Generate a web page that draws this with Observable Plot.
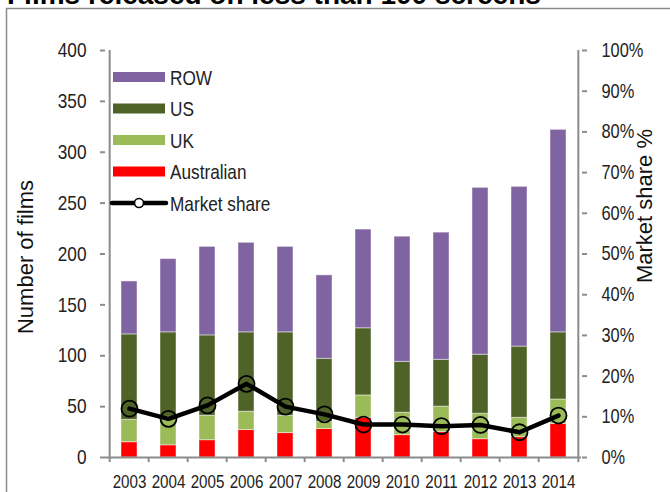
<!DOCTYPE html>
<html><head><meta charset="utf-8">
<script src="https://cdn.jsdelivr.net/npm/d3@7"></script>
<script src="https://cdn.jsdelivr.net/npm/@observablehq/plot@0.6"></script>
<style>
body{margin:0;background:#fff;}
#wrap{position:relative;width:670px;height:492px;overflow:hidden;background:#fff;}
#wrap svg.over{position:absolute;left:0;top:0;}
#chart{position:absolute;left:0;top:0;}
</style></head><body><div id="wrap"><div id="chart"></div></div>
<script>
const years = ["2003","2004","2005","2006","2007","2008","2009","2010","2011","2012","2013","2014"];
const australian = [15,12,17,27,24,28,39,22,25,18,20,33];
const uk = [22,28,24,18,17,7,22,22,25,25,19,24];
const us = [84,83,79,78,82,62,66,50,46,58,70,66];
const row = [52,72,87,88,84,82,97,123,125,164,157,199];
const marketShare = [12.0,9.5,12.8,18.1,12.5,10.6,8.1,8.1,7.7,8.0,6.2,10.3];
const seriesNames = ["Australian","UK","US","ROW"];
const seriesColors = ["#FF0000","#9BBB59","#4F6228","#8064A2"];
const leftTicks = [0,50,100,150,200,250,300,350,400];
const rightTicks = [0,10,20,30,40,50,60,70,80,90,100];
const legendOrder = ["ROW","US","UK","Australian"];
const titleText = "Films released on less than 100 screens";
const yTitle = "Number of films";
const y2Title = "Market share %";

const FONT = '"Liberation Sans",Arial,sans-serif';
const NARROW = 0.82; // emulate a condensed face
const SHARE = 4; // 100% on the right axis = 400 on the left axis
const seriesArrays = [australian, uk, us, row];
const barData = [];
years.forEach((y, i) => seriesNames.forEach((s, k) => barData.push({year: y, series: s, value: seriesArrays[k][i]})));
const shareData = years.map((y, i) => ({year: y, share: marketShare[i]}));
const half = 476 / 12 / 2;

const plot = Plot.plot({
  width: 670, height: 492,
  marginLeft: 105, marginRight: 89, marginTop: 50, marginBottom: 35,
  style: {fontFamily: FONT, fontSize: "20px", color: "#222", background: "transparent", overflow: "visible"},
  x: {type: "band", domain: years, paddingInner: 0.6, paddingOuter: 0.3, label: null},
  y: {domain: [0, 400], label: null},
  color: {domain: seriesNames, range: seriesColors},
  marks: [
    Plot.barY(barData, {x: "year", y: "value", fill: "series", stroke: "#fff", strokeOpacity: 0.45, strokeWidth: 1}),
    Plot.ruleY([0], {stroke: "#8c8c8c", strokeWidth: 2}),
    Plot.ruleX([years[0]], {y1: 0, y2: 400, dx: -half, stroke: "#8c8c8c", strokeWidth: 2}),
    Plot.ruleX([years[years.length-1]], {y1: 0, y2: 400, dx: half, stroke: "#8c8c8c", strokeWidth: 2}),
    Plot.ruleX(years, {y1: 0, y2: -5, dx: -half, stroke: "#8c8c8c", strokeWidth: 2}),
    Plot.ruleX([years[years.length-1]], {y1: 0, y2: -5, dx: half, stroke: "#8c8c8c", strokeWidth: 2}),
    Plot.axisY({anchor: "left", ticks: leftTicks, tickSize: 5, tickPadding: 14, stroke: "#8c8c8c", strokeWidth: 2, fill: "#222", fontSize: 21, label: null}),
    Plot.axisY({anchor: "right", ticks: rightTicks.map(d => d * SHARE), tickFormat: d => `${d / SHARE}%`, tickSize: 5, tickPadding: 15, stroke: "#8c8c8c", strokeWidth: 2, fill: "#222", fontSize: 20, label: null}),
    Plot.axisX({tickSize: 0, tickPadding: 17, fill: "#222", fontSize: 18.5, label: null}),
    Plot.line(shareData, {x: "year", y: d => d.share * SHARE, stroke: "#000", strokeWidth: 4.5}),
    Plot.dot(shareData, {x: "year", y: d => d.share * SHARE, r: 8, stroke: "#000", strokeWidth: 1.8, fill: "none"}),
    Plot.text([yTitle], {frameAnchor: "left", textAnchor: "middle", dx: -80, dy: 3, rotate: -90, fontSize: 22, fill: "#111"}),
    Plot.text([y2Title], {frameAnchor: "right", textAnchor: "middle", dx: 63, dy: -48, rotate: -90, fontSize: 22, fill: "#111"})
  ]
});

function condense(root, k, skip) {
  root.querySelectorAll("text").forEach(t => {
    if (skip.includes(t.textContent)) return;
    let tr = t.getAttribute("transform") || "";
    const x = t.getAttribute("x");
    if (x !== null && !isNaN(+x)) { tr += ` translate(${+x},0)`; t.removeAttribute("x"); }
    t.setAttribute("transform", (tr + ` scale(${k},1)`).trim());
  });
}
condense(plot, NARROW, [yTitle, y2Title]);
document.getElementById("chart").appendChild(plot);

// overlay: cut-off title, outer frame and legend
const over = d3.select("#wrap").append("svg").attr("class", "over").attr("width", 670).attr("height", 492);
over.append("path").attr("d", "M6.5,492V8.5H670").attr("fill", "none").attr("stroke", "#8c8c8c").attr("stroke-width", 1.5);
over.append("text").attr("x", 7).attr("y", 4).attr("font-family", '"Liberation Sans",Arial,sans-serif').attr("font-weight", "bold").attr("font-size", 28).attr("fill", "#000").text(titleText);
const lg = over.append("g").attr("font-family", FONT).attr("font-size", 21).attr("fill", "#222");
legendOrder.forEach((s, i) => {
  const cy = 77 + i * 31.5;
  lg.append("rect").attr("x", 113).attr("y", cy - 5).attr("width", 52).attr("height", 10).attr("fill", seriesColors[seriesNames.indexOf(s)]);
  lg.append("text").attr("transform", `translate(170,${cy}) scale(${NARROW},1)`).attr("dy", "0.36em").text(s);
});
const ly = 77 + 4 * 31.5;
lg.append("line").attr("x1", 112).attr("x2", 166).attr("y1", ly).attr("y2", ly).attr("stroke", "#000").attr("stroke-width", 4.5).attr("stroke-linecap", "round");
lg.append("circle").attr("cx", 139).attr("cy", ly).attr("r", 4.5).attr("fill", "#fff").attr("stroke", "#000").attr("stroke-width", 1.6);
lg.append("text").attr("transform", `translate(170,${ly}) scale(${NARROW},1)`).attr("dy", "0.36em").text("Market share");
</script></body></html>
